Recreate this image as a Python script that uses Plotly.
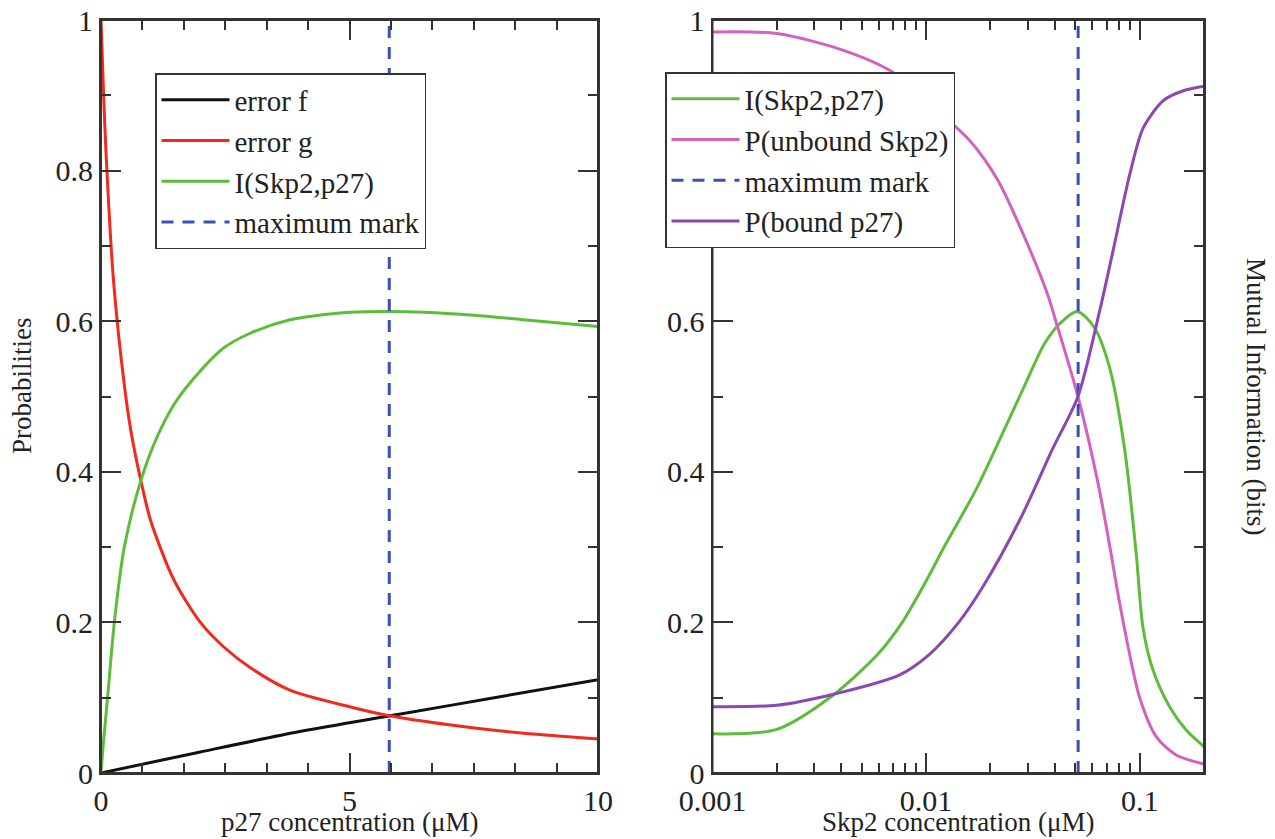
import math
import plotly.graph_objects as go

# ---------------- data: left panel (p27 concentration, uM) ----------------
err_f_x = [0, 2, 4, 6, 8, 10]
err_f_y = [0, 0.028, 0.055, 0.078, 0.101, 0.124]

err_g_x = [0, 0.05, 0.1, 0.25, 0.47, 0.6, 0.8, 1.0, 1.47, 2.0, 2.46, 3.0, 3.8, 5.0, 5.8, 7.0, 8.0, 9.0, 10.0]
err_g_y = [1.0, 0.905, 0.825, 0.655, 0.515, 0.455, 0.389, 0.335, 0.256, 0.2, 0.168, 0.14, 0.11, 0.088, 0.076, 0.064, 0.056, 0.05, 0.045]

info_l_x = [0, 0.05, 0.134, 0.268, 0.469, 0.805, 1.12, 1.475, 1.79, 2.46, 3.0, 3.8, 4.5, 5.0, 5.8, 6.5, 7.5, 8.5, 10.0]
info_l_y = [0, 0.042, 0.101, 0.2, 0.3, 0.389, 0.445, 0.49, 0.518, 0.564, 0.584, 0.602, 0.609, 0.612, 0.613, 0.612, 0.608, 0.602, 0.593]

max_l_x = [5.8, 5.8]
max_l_y = [0, 1]

# ---------------- data: right panel (Skp2 concentration, uM) ----------------
info_r_x = [0.001, 0.002, 0.00373, 0.00604, 0.00773, 0.01, 0.0123, 0.0171, 0.0228, 0.0292, 0.0358, 0.0423, 0.051,
            0.0612, 0.0722, 0.0851, 0.0964, 0.1035, 0.1153, 0.138, 0.165, 0.2]
info_r_y = [0.052, 0.058, 0.105, 0.16, 0.2, 0.255, 0.303, 0.376, 0.451, 0.517, 0.57, 0.597, 0.613,
            0.592, 0.539, 0.429, 0.29, 0.194, 0.137, 0.088, 0.057, 0.035]

unbound_x = [0.001, 0.002, 0.00407, 0.00695, 0.01, 0.016, 0.0217, 0.0304, 0.037, 0.0405, 0.0514, 0.0638,
             0.0736, 0.0783, 0.0865, 0.1, 0.1197, 0.148, 0.2]
unbound_y = [0.984, 0.982, 0.96, 0.931, 0.893, 0.84, 0.787, 0.697, 0.636, 0.6, 0.5, 0.385,
             0.29, 0.245, 0.18, 0.1, 0.048, 0.024, 0.012]

bound_x = [0.001, 0.002, 0.00373, 0.00748, 0.0104, 0.0142, 0.0185, 0.028, 0.0389, 0.0514, 0.0645, 0.0751,
           0.09, 0.104, 0.129, 0.16, 0.2]
bound_y = [0.088, 0.09, 0.105, 0.13, 0.158, 0.2, 0.248, 0.341, 0.429, 0.5, 0.61, 0.694,
           0.796, 0.857, 0.893, 0.906, 0.912]

max_r_x = [0.0515, 0.0515]
max_r_y = [0, 1]

y_ticks = [0, 0.2, 0.4, 0.6, 0.8, 1]
y_ticktext = ["0", "0.2", "0.4", "0.6", "0.8", "1"]
xl_ticks = [0, 5, 10]
xl_ticktext = ["0", "5", "10"]
xr_ticks = [0.001, 0.01, 0.1]
xr_ticktext = ["0.001", "0.01", "0.1"]

# ---------------- style ----------------
C_BLACK = "#111111"
C_RED = "#f2291d"
C_GREEN = "#5dbd3a"
C_BLUE = "#3a4fb8"
C_PINK = "#d262be"
C_PURPLE = "#8b47b2"
FONT = "Liberation Serif, Times New Roman, serif"
TXT = "#222222"
AX = "#333333"
LW = 3

# the page body has an 8px margin: the figure starts at page pixel (8, 8)
OFF = 8
W, H = 1275 - OFF, 839 - OFF
def px(x):
    return (x - OFF) / W
def py(y):
    return 1 - (y - OFF) / H

fig = go.Figure()

def add(x, y, name, color, xa, ya, leg, dash=None, smooth=True):
    fig.add_trace(go.Scatter(
        x=x, y=y, mode="lines", name=name,
        line=dict(color=color, width=LW, dash=dash,
                  shape="spline" if smooth else "linear", smoothing=0.8 if smooth else None),
        xaxis=xa, yaxis=ya, legend=leg))

add(err_f_x, err_f_y, "error f", C_BLACK, "x", "y", "legend")
add(err_g_x, err_g_y, "error g", C_RED, "x", "y", "legend")
add(info_l_x, info_l_y, "I(Skp2,p27)", C_GREEN, "x", "y", "legend")
add(max_l_x, max_l_y, "maximum mark", C_BLUE, "x", "y", "legend", dash="12px,9px", smooth=False)

add(info_r_x, info_r_y, "I(Skp2,p27)", C_GREEN, "x2", "y2", "legend2")
add(unbound_x, unbound_y, "P(unbound Skp2)", C_PINK, "x2", "y2", "legend2")
add(max_r_x, max_r_y, "maximum mark", C_BLUE, "x2", "y2", "legend2", dash="12px,9px", smooth=False)
add(bound_x, bound_y, "P(bound p27)", C_PURPLE, "x2", "y2", "legend2")

axis_common = dict(showline=True, linecolor=AX, linewidth=2, mirror="ticks",
                   ticks="inside", ticklen=20, tickwidth=2, tickcolor=AX,
                   showgrid=False, zeroline=False, automargin=False,
                   ticklabeloverflow="allow",
                   tickfont=dict(family=FONT, size=30, color=TXT))
minor_common = dict(ticks="inside", ticklen=10, tickwidth=2, tickcolor=AX, showgrid=False)

ydom = [py(773), py(20)]
xdom_l = [px(101), px(598)]
xdom_r = [px(712.5), px(1204)]
xr_range = [-3, math.log10(0.2)]
minor_log = [m * 10 ** e for e in (-3, -2, -1) for m in range(2, 10) if m * 10 ** e <= 0.2]

leg_common = dict(xanchor="left", yanchor="top", bgcolor="white", bordercolor=AX, borderwidth=1.5,
                  font=dict(family=FONT, size=29, color=TXT), tracegroupgap=0, itemwidth=68)

# frame around each plotting area (axis-domain coordinates)
frames = [dict(type="rect", xref=xr + " domain", yref=yr + " domain", x0=0, x1=1, y0=0, y1=1,
               line=dict(color=AX, width=2), fillcolor="rgba(0,0,0,0)", layer="above")
          for xr, yr in (("x", "y"), ("x2", "y2"))]

fig.update_layout(
    width=W, height=H,
    margin=dict(l=0, r=0, t=0, b=0, autoexpand=False),
    paper_bgcolor="white", plot_bgcolor="white",
    showlegend=True,
    xaxis=dict(domain=xdom_l, range=[0, 10], anchor="y",
               tickmode="array", tickvals=xl_ticks, ticktext=xl_ticktext,
               minor=dict(tick0=0, dtick=5 / 6, **minor_common), **axis_common),
    yaxis=dict(domain=ydom, range=[0, 1], anchor="x",
               tickmode="array", tickvals=y_ticks, ticktext=y_ticktext,
               minor=dict(tick0=0, dtick=0.1, **minor_common), **axis_common),
    xaxis2=dict(domain=xdom_r, type="log", range=xr_range, anchor="y2",
                tickmode="array", tickvals=xr_ticks, ticktext=xr_ticktext,
                minor=dict(tickmode="array", tickvals=minor_log, **minor_common), **axis_common),
    yaxis2=dict(domain=ydom, range=[0, 1], anchor="x2",
                tickmode="array", tickvals=y_ticks, ticktext=y_ticktext,
                minor=dict(tick0=0, dtick=0.1, **minor_common), **axis_common),
    legend=dict(x=px(155), y=py(73), **leg_common),
    legend2=dict(x=px(665), y=py(72), **leg_common),
    shapes=frames,
    annotations=[
        dict(text="p27 concentration (\u03bcM)", x=px(349), y=py(822), xref="paper", yref="paper",
             showarrow=False, xanchor="center", yanchor="middle",
             font=dict(family=FONT, size=27, color=TXT)),
        dict(text="Skp2 concentration (\u03bcM)", x=px(958), y=py(822), xref="paper", yref="paper",
             showarrow=False, xanchor="center", yanchor="middle",
             font=dict(family=FONT, size=27, color=TXT)),
        dict(text="Probabilities", x=px(22), y=py(386), xref="paper", yref="paper",
             showarrow=False, xanchor="center", yanchor="middle", textangle=-90,
             font=dict(family=FONT, size=27, color=TXT)),
        dict(text="Mutual Information (bits)", x=px(1256), y=py(396), xref="paper", yref="paper",
             showarrow=False, xanchor="center", yanchor="middle", textangle=90,
             font=dict(family=FONT, size=27, color=TXT)),
    ],
)

fig.write_html("out.html")
